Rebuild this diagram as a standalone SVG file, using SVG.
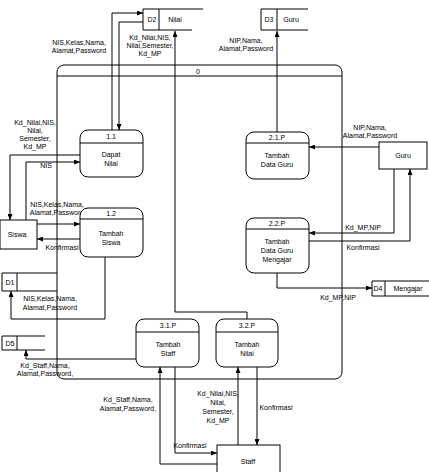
<svg xmlns="http://www.w3.org/2000/svg" width="429" height="472" viewBox="0 0 429 472">
<defs>
<marker id="ah" markerWidth="6" markerHeight="5" refX="6" refY="2.5" orient="auto" markerUnits="userSpaceOnUse">
<path d="M0,0 L6,2.5 L0,5 Z" fill="#000"/>
</marker>
</defs>
<style>
text{font-family:"Liberation Sans",Arial,sans-serif;font-size:7px;fill:#000;text-anchor:middle}
.s{fill:none;stroke:#000;stroke-width:1}
.b{fill:#fff;stroke:#000;stroke-width:1}
.c{fill:none;stroke:#000;stroke-width:1;marker-end:url(#ah)}
</style>
<rect width="429" height="472" fill="#fff"/>
<g id="boundary">
<rect class="s" x="57" y="65" width="285" height="314" rx="7"/>
<line class="s" x1="57" y1="76" x2="342" y2="76"/>
<text x="198" y="74">0</text>
</g>
<g id="connectors">
<path class="c" d="M112,130 V13 H143"/>
<path class="c" d="M143,22 H119 V130"/>
<path class="c" d="M247,319 V312 H175 V31"/>
<path class="c" d="M80,155 H10 V220"/>
<path class="c" d="M26,220 V162 H80"/>
<path class="c" d="M37,224 H80"/>
<path class="c" d="M80,239 H37"/>
<path class="c" d="M105,257 V319 H11 V291"/>
<path class="c" d="M379,147 H309"/>
<path class="c" d="M277,132 V31"/>
<path class="c" d="M394,169 V233 H309"/>
<path class="c" d="M309,241 H410 V169"/>
<path class="c" d="M277,273 V288 H372"/>
<path class="c" d="M136,359 H26 V350"/>
<path class="c" d="M217,464 H160 V367"/>
<path class="c" d="M175,367 V453 H217"/>
<path class="c" d="M238,445 V367"/>
<path class="c" d="M257,367 V445"/>
<text x="79" y="45">NIS,Kelas,Nama,</text>
<text x="79" y="53">Alamat,Password</text>
<text x="150" y="40">Kd_Nilai,NIS,</text>
<text x="150" y="48">Nilai,Semester,</text>
<text x="150" y="56">Kd_MP</text>
<text x="246" y="43">NIP,Nama,</text>
<text x="246" y="51">Alamat,Password</text>
<text x="370" y="130">NIP,Nama,</text>
<text x="370" y="138">Alamat,Password</text>
<text x="35" y="125">Kd_Nilai,NIS,</text>
<text x="35" y="133">Nilai,</text>
<text x="35" y="141">Semester,</text>
<text x="35" y="149">Kd_MP</text>
<text x="46" y="168">NIS</text>
<text x="57" y="207">NIS,Kelas,Nama,</text>
<text x="57" y="215">Alamat,Password</text>
<text x="62" y="250">Konfirmasi</text>
<text x="50" y="301">NIS,Kelas,Nama,</text>
<text x="50" y="310">Alamat,Password</text>
<text x="363" y="230">Kd_MP,NIP</text>
<text x="363" y="250">Konfirmasi</text>
<text x="338" y="300">Kd_MP,NIP</text>
<text x="45" y="368">Kd_Staff,Nama,</text>
<text x="45" y="376">Alamat,Password,</text>
<text x="128" y="402">Kd_Staff,Nama,</text>
<text x="128" y="411">Alamat,Password,</text>
<text x="190" y="448">Konfirmasi</text>
<text x="218" y="396">Kd_Nilai,NIS,</text>
<text x="218" y="405">Nilai,</text>
<text x="218" y="414">Semester,</text>
<text x="218" y="423">Kd_MP</text>
<text x="276" y="410">Konfirmasi</text>
</g>
<g id="D2">
<path class="s" d="M203,9 H143 V30 H192"/>
<line class="s" x1="159" y1="9" x2="159" y2="30"/>
<text x="152" y="22">D2</text>
<text x="175" y="22">Nilai</text>
</g>
<g id="D3">
<path class="s" d="M308,9 H261 V30 H308"/>
<line class="s" x1="277" y1="9" x2="277" y2="30"/>
<text x="269" y="22">D3</text>
<text x="291" y="22">Guru</text>
</g>
<g id="D1">
<path class="s" d="M57,273 H2 V291 H57"/>
<line class="s" x1="17" y1="273" x2="17" y2="291"/>
<text x="10" y="285">D1</text>
</g>
<g id="D5">
<path class="s" d="M45,336 H2 V350 H45"/>
<line class="s" x1="17" y1="336" x2="17" y2="350"/>
<text x="10" y="346">D5</text>
</g>
<g id="D4">
<path class="s" d="M429,281 H372 V296 H429"/>
<line class="s" x1="385" y1="281" x2="385" y2="296"/>
<text x="378" y="291">D4</text>
<text x="408" y="291">Mengajar</text>
</g>
<g id="Siswa">
<rect class="b" x="0" y="220" width="37" height="29"/>
<text x="17" y="237">Siswa</text>
</g>
<g id="Guru">
<rect class="b" x="379" y="142" width="48" height="27"/>
<text x="403" y="158">Guru</text>
</g>
<g id="Staff">
<rect class="b" x="217" y="445" width="63" height="30"/>
<text x="248" y="464">Staff</text>
</g>
<g id="P1.1">
<rect class="b" x="80" y="130" width="63" height="47" rx="8"/>
<line class="s" x1="80" y1="143" x2="143" y2="143"/>
<text x="111" y="139">1.1</text>
<text x="111" y="157">Dapat</text>
<text x="111" y="166">Nilai</text>
</g>
<g id="P1.2">
<rect class="b" x="80" y="208" width="63" height="49" rx="8"/>
<line class="s" x1="80" y1="219" x2="143" y2="219"/>
<text x="111" y="216">1.2</text>
<text x="111" y="236">Tambah</text>
<text x="111" y="245">Siswa</text>
</g>
<g id="P2.1">
<rect class="b" x="246" y="132" width="63" height="47" rx="8"/>
<line class="s" x1="246" y1="143" x2="309" y2="143"/>
<text x="277" y="140">2.1.P</text>
<text x="277" y="158">Tambah</text>
<text x="277" y="167">Data Guru</text>
</g>
<g id="P2.2">
<rect class="b" x="246" y="218" width="63" height="55" rx="8"/>
<line class="s" x1="246" y1="229" x2="309" y2="229"/>
<text x="277" y="226">2.2.P</text>
<text x="277" y="244">Tambah</text>
<text x="277" y="253">Data Guru</text>
<text x="277" y="262">Mengajar</text>
</g>
<g id="P3.1">
<rect class="b" x="136" y="319" width="63" height="48" rx="8"/>
<line class="s" x1="136" y1="332" x2="199" y2="332"/>
<text x="168" y="328">3.1.P</text>
<text x="168" y="347">Tambah</text>
<text x="168" y="356">Staff</text>
</g>
<g id="P3.2">
<rect class="b" x="216" y="319" width="62" height="48" rx="8"/>
<line class="s" x1="216" y1="332" x2="278" y2="332"/>
<text x="247" y="328">3.2.P</text>
<text x="247" y="347">Tambah</text>
<text x="247" y="356">Nilai</text>
</g>
</svg>
